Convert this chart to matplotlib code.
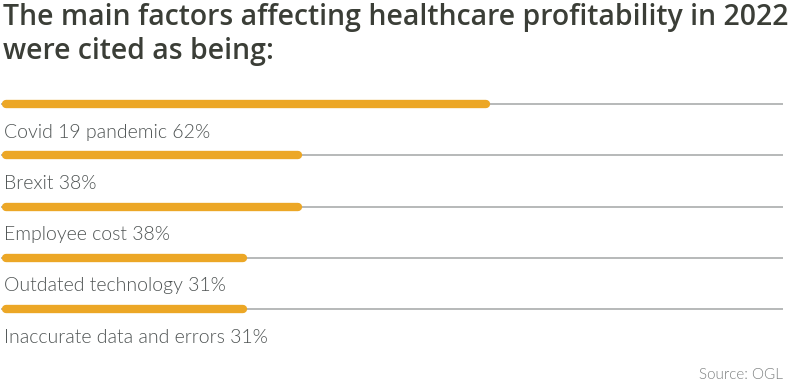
import matplotlib
matplotlib.use("Agg")
import matplotlib.pyplot as plt

# Data
factors = ["Covid 19 pandemic", "Brexit", "Employee cost",
           "Outdated technology", "Inaccurate data and errors"]
percent = [62, 38, 38, 31, 31]

title = "The main factors affecting healthcare profitability in 2022\nwere cited as being:"
source = "Source: OGL"

W, H = 800, 389
fig = plt.figure(figsize=(W / 100, H / 100), dpi=100)

# axes laid out in pixel terms: row i sits at y = 104 + 51.25 * i
step = 51.25
top = 104 - step / 2
bottom = top + step * len(factors)
left, right = 1, 783
ax = fig.add_axes([left / W, 1 - bottom / H, (right - left) / W, (bottom - top) / H])
ax.set_xlim(0, 100)
ax.set_ylim(len(factors) - 0.5, -0.5)
ax.axis("off")

orange = "#eca726"
for i, (name, p) in enumerate(zip(factors, percent)):
    # thin grey rule across the whole width
    ax.plot([0, 100], [i, i], color="#a3a6a6", lw=1.1, solid_capstyle="butt", zorder=1)
    # rounded orange bar on top of it
    ax.plot([0.6, p], [i, i], color=orange, lw=6, solid_capstyle="round", zorder=2)
    ax.text(0.4, i + 0.55, f"{name} {p}%", fontsize=14, family="Lato",
            fontweight=300, color="#4e5353", va="center", ha="left")

fig.text(3 / W, 1 - 3 / H, title, fontsize=20.4, family="Open Sans",
         fontweight="semibold", color="#3b3e37", va="top", ha="left",
         linespacing=1.25)
fig.text(783 / W, 1 - 375 / H, source, fontsize=11, family="Lato",
         fontweight=300, color="#7d8080", va="center", ha="right")

fig.savefig("out.png", dpi=100)
